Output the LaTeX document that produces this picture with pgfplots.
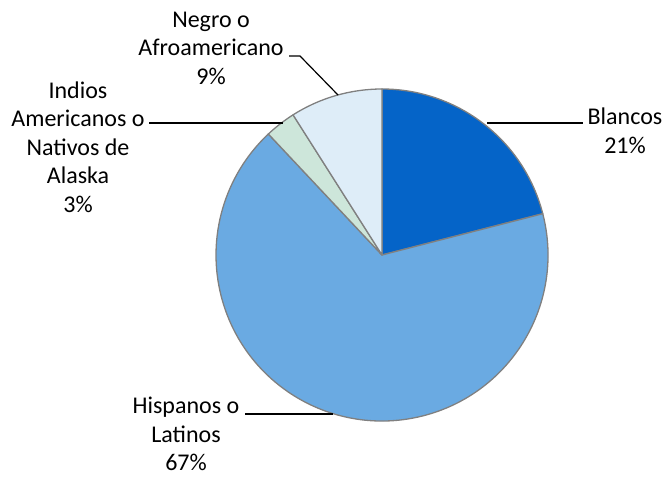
\documentclass[border=0pt]{standalone}
\usepackage{fontspec}
\setmainfont{Carlito}
\usepackage{pgfplots}
\usepackage{pgfplotstable}
\pgfplotsset{compat=1.18}

\definecolor{cBla}{RGB}{5,100,200}
\definecolor{cHis}{RGB}{106,170,226}
\definecolor{cInd}{RGB}{205,230,218}
\definecolor{cNeg}{RGB}{222,237,248}
\definecolor{edge}{RGB}{128,128,128}

% percentages, clockwise from 12 o'clock
\pgfplotstableread{
group value
Blancos 21
Hispanos 67
Indios 3
Negro 9
}\piedata

\pgfplotstablegetelem{0}{value}\of\piedata \let\vA\pgfplotsretval
\pgfplotstablegetelem{1}{value}\of\piedata \let\vB\pgfplotsretval
\pgfplotstablegetelem{2}{value}\of\piedata \let\vC\pgfplotsretval
\pgfplotstablegetelem{3}{value}\of\piedata \let\vD\pgfplotsretval
\pgfmathsetmacro\aA{90}
\pgfmathsetmacro\aB{\aA-3.6*\vA}
\pgfmathsetmacro\aC{\aB-3.6*\vB}
\pgfmathsetmacro\aD{\aC-3.6*\vC}
\pgfmathsetmacro\aE{\aD-3.6*\vD}

\newcommand\slice[3]{%
  \filldraw[fill=#3, draw=edge, line width=1.3pt, line join=round]
    (axis cs:382,222) -- ++(#1:166pt) arc[start angle=#1, end angle=#2, radius=166pt] -- cycle;}

\begin{document}
\begin{tikzpicture}[
    lbl/.style={align=center, font=\fontsize{24}{28.5}\selectfont, inner sep=0pt}]
\begin{axis}[
    hide axis,
    scale only axis,
    width=665pt, height=477pt,
    xmin=0, xmax=665, ymin=0, ymax=477,
    clip=false,
  ]
  \path (rel axis cs:0,0) rectangle (rel axis cs:1,1);
  \slice{\aA}{\aB}{cBla}
  \slice{\aB}{\aC}{cHis}
  \slice{\aC}{\aD}{cInd}
  \slice{\aD}{\aE}{cNeg}

  % leader lines
  \draw[line width=1.2pt] (axis cs:487,354) -- (axis cs:583,354);
  \draw[line width=1.2pt] (axis cs:245,63) -- (axis cs:333,63);
  \draw[line width=1.2pt] (axis cs:149,354) -- (axis cs:283,354);
  \draw[line width=1.2pt] (axis cs:289,421) -- (axis cs:300,421) -- (axis cs:338,382);

  % labels
  \node[lbl] at (axis cs:625,346) {Blancos\\21\%};
  \node[lbl] at (axis cs:186,43) {Hispanos o\\Latinos\\67\%};
  \node[lbl] at (axis cs:78,330) {Indios\\Americanos o\\Nativos de\\Alaska\\3\%};
  \node[lbl] at (axis cs:211,429) {Negro o\\Afroamericano\\9\%};
\end{axis}
\end{tikzpicture}
\end{document}
